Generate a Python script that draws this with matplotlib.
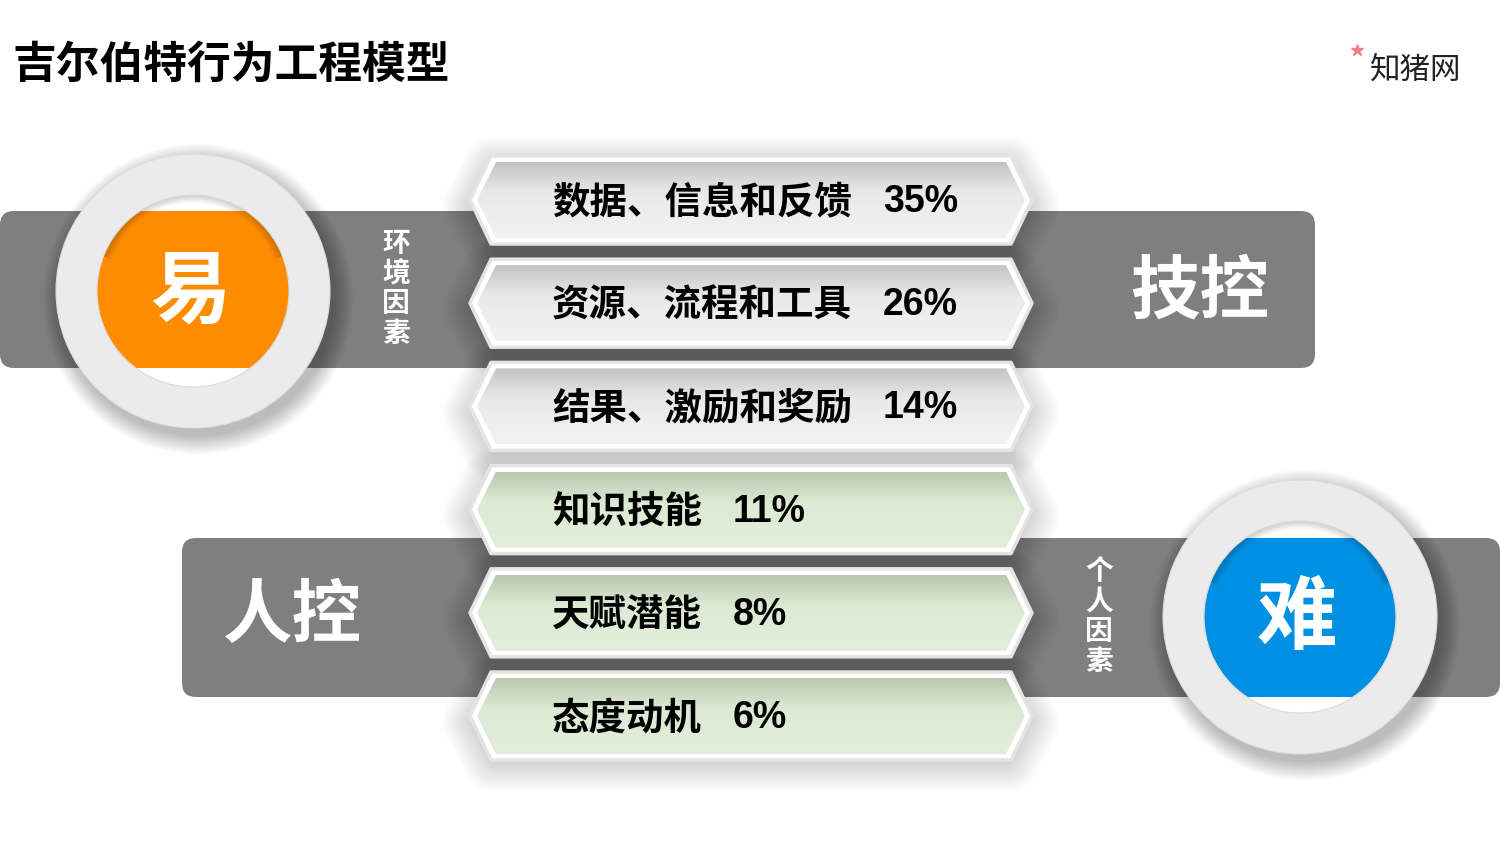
import numpy as np
import matplotlib
matplotlib.use("Agg")
import matplotlib.pyplot as plt
from matplotlib.patches import Polygon, Circle, Wedge, FancyBboxPatch, Rectangle

plt.rcParams['font.family'] = ['Noto Sans CJK SC', 'DejaVu Sans']

# 数据
title = "吉尔伯特行为工程模型"
labels = ["数据、信息和反馈", "资源、流程和工具", "结果、激励和奖励",
          "知识技能", "天赋潜能", "态度动机"]
shares = [35, 26, 14, 11, 8, 6]
groups = ["env", "env", "env", "person", "person", "person"]
env_side = {"name": "环境因素", "ctrl": "技控", "level": "易", "color": "#ff8c00"}
person_side = {"name": "个人因素", "ctrl": "人控", "level": "难", "color": "#0090e3"}

W, H = 1500, 844
fig = plt.figure(figsize=(15, 8.44), dpi=100)
ax = fig.add_axes([0, 0, 1, 1])
ax.set_xlim(0, W)
ax.set_ylim(H, 0)
ax.axis('off')

band_gray = "#7f7f7f"


def hexpts(xl, xr, cy, hh, tip):
    return [(xl + tip, cy - hh), (xr - tip, cy - hh), (xr, cy),
            (xr - tip, cy + hh), (xl + tip, cy + hh), (xl, cy)]


def soft_circle_shadow(cx, cy, r, dx=5, dy=8, n=14):
    for k in range(n):
        ax.add_patch(Circle((cx + dx, cy + dy), r + k * 1.4, color='black',
                            alpha=0.02, lw=0, zorder=3))


def badge(cx, cy, band_top, band_bot, color, char):
    r_out, r_in = 137, 96
    soft_circle_shadow(cx, cy, r_out)
    ax.add_patch(Circle((cx, cy), r_in, color='white', lw=0, zorder=4))
    hole = Circle((cx, cy), r_in, transform=ax.transData)
    rect = Rectangle((cx - r_in, band_top), 2 * r_in, band_bot - band_top,
                     color=color, lw=0, zorder=5)
    ax.add_patch(rect)
    rect.set_clip_path(hole)
    # 孔内上沿阴影
    for k in range(6):
        w = Wedge((cx, cy - 2), r_in + 1, 200, 340, width=3 + k * 1.5,
                  color='black', alpha=0.035, lw=0, zorder=6)
        ax.add_patch(w)
    ax.add_patch(Wedge((cx, cy), r_out, 0, 360, width=r_out - r_in,
                       facecolor='#ebebeb', edgecolor='#dcdcdc', lw=0.8, zorder=7))
    ax.text(cx - 3, cy + 2, char, color='white', fontsize=58, fontweight='bold',
            ha='center', va='center', zorder=8)


# 背景灰带
ax.add_patch(FancyBboxPatch((0, 211), 1315, 157,
                            boxstyle="round,pad=0,rounding_size=14",
                            color=band_gray, lw=0, zorder=1))
ax.add_patch(FancyBboxPatch((182, 538), 1318, 159,
                            boxstyle="round,pad=0,rounding_size=14",
                            color=band_gray, lw=0, zorder=1))

# 六边形条目
row_y = [200 + i * 103.2 for i in range(len(labels))]
xl, xr = 470, 1032
grad = np.linspace(0, 1, 100)[:, None]
for lab, val, grp, cy in zip(labels, shares, groups, row_y):
    # 柔和投影
    for k in range(16):
        ax.add_patch(Polygon(hexpts(xl + 4, xr - 4, cy + 6, 38, 20), closed=True,
                             facecolor='black', edgecolor='black',
                             lw=k * 3.0, alpha=0.011, joinstyle='round', zorder=2))
    outer = Polygon(hexpts(xl, xr, cy, 44, 21), closed=True, facecolor='white',
                    edgecolor='#e4e4e4', lw=2.5, joinstyle='round', zorder=3)
    ax.add_patch(outer)
    inner = Polygon(hexpts(xl + 7, xr - 7, cy, 38, 19), closed=True,
                    facecolor='none', edgecolor='none', lw=0, zorder=4)
    ax.add_patch(inner)
    if grp == "env":
        top_c, mid_c, bot_c = np.array([195, 195, 195]), np.array([233, 233, 233]), np.array([242, 242, 242])
    else:
        top_c, mid_c, bot_c = np.array([185, 200, 175]), np.array([220, 234, 212]), np.array([226, 238, 218])
    t = grad
    img = np.where(t < 0.4,
                   top_c + (mid_c - top_c) * (t / 0.4),
                   mid_c + (bot_c - mid_c) * ((t - 0.4) / 0.6)) / 255.0
    img = np.repeat(img[:, None, :], 2, axis=1)
    im = ax.imshow(img, extent=[xl + 7, xr - 7, cy + 38, cy - 38],
                   interpolation='bilinear', aspect='auto', zorder=4)
    im.set_clip_path(inner)
    tx = 552
    ax.text(tx, cy + 2, lab, fontsize=27, fontweight='bold', color='black',
            ha='left', va='center', zorder=6)
    ax.text(tx + len(lab) * 37.5 + 31, cy + 2, f"{val}%", fontsize=27,
            fontweight='bold', color='black', ha='left', va='center',
            family=['Liberation Sans', 'DejaVu Sans'], zorder=6)

# 圆形标志
badge(193, 291, 211, 368, env_side["color"], env_side["level"])
badge(1300, 617, 538, 697, person_side["color"], person_side["level"])

# 竖排文字与控制方式
ax.text(396, 289, "\n".join(env_side["name"]), color='white', fontsize=20,
        fontweight='bold', ha='center', va='center', linespacing=1.08, zorder=6)
ax.text(1099, 617, "\n".join(person_side["name"]), color='white', fontsize=20,
        fontweight='bold', ha='center', va='center', linespacing=1.08, zorder=6)
ax.text(1200, 292, env_side["ctrl"], color='white', fontsize=50, fontweight='bold',
        ha='center', va='center', zorder=6)
ax.text(292, 617, person_side["ctrl"], color='white', fontsize=50, fontweight='bold',
        ha='center', va='center', zorder=6)

# 标题
ax.text(12, 65, title, fontsize=31.5, fontweight='bold', color='black',
        ha='left', va='center', zorder=6)

# 水印标志
ax.plot(1357, 50, marker='*', markersize=9, color='#f08080', zorder=6)
ax.text(1416, 70, "知猪网", fontsize=22, color='#222222', ha='center',
        va='center', zorder=6)

fig.savefig("out.png", dpi=100)
